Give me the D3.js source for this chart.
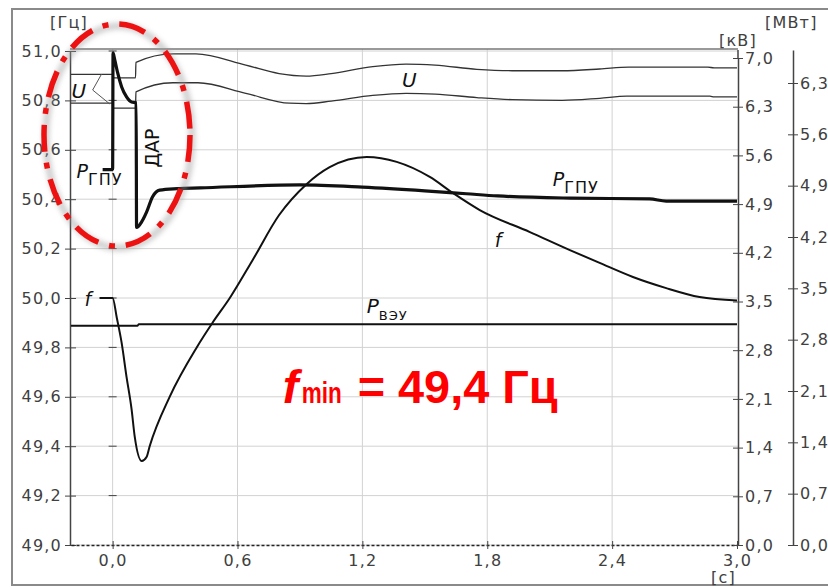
<!DOCTYPE html>
<html>
<head>
<meta charset="utf-8">
<script src="https://cdn.jsdelivr.net/npm/d3@7"></script>
<style>
body { margin: 0; background: #fff; }
text { font-family: "DejaVu Sans", Verdana, sans-serif; }
</style>
</head>
<body>
<div id="plot"></div>
<script>
// axis ticks
var tTicks = [0, 0.6, 1.2, 1.8, 2.4, 3.0];
var fTicks = [49.0, 49.2, 49.4, 49.6, 49.8, 50.0, 50.2, 50.4, 50.6, 50.8, 51.0];
var kvTicks = [0, 0.7, 1.4, 2.1, 2.8, 3.5, 4.2, 4.9, 5.6, 6.3, 7.0];
var mwTicks = [0, 0.7, 1.4, 2.1, 2.8, 3.5, 4.2, 4.9, 5.6, 6.3];

// f, Hz
var fT = [-0.063, 0, 0.02, 0.043, 0.067, 0.091, 0.106, 0.14, 0.163, 0.178, 0.274, 0.404, 0.48, 0.563, 0.673, 0.8, 0.933, 1.043, 1.221, 1.365, 1.524, 1.635, 1.764, 2.005, 2.197, 2.34, 2.5, 2.66, 2.82, 3.0];
var fV = [50.0, 50.0, 49.92, 49.82, 49.68, 49.55, 49.44, 49.34, 49.356, 49.4, 49.6, 49.8, 49.9, 50.0, 50.154, 50.336, 50.462, 50.53, 50.571, 50.551, 50.49, 50.425, 50.356, 50.267, 50.194, 50.142, 50.085, 50.04, 50.004, 49.99];

// P GPU, MW
var pgT = [-0.048, 0, 0.002, 0.01, 0.024, 0.043, 0.067, 0.091, 0.113, 0.115, 0.14, 0.163, 0.192, 0.226, 0.31, 0.42, 0.9, 1.2, 1.5, 1.7, 1.85, 2.2, 2.58, 2.66, 3.0];
var pgV = [5.12, 5.12, 6.71, 6.62, 6.44, 6.25, 6.11, 6.04, 6.03, 4.33, 4.41, 4.54, 4.75, 4.84, 4.86, 4.87, 4.91, 4.88, 4.83, 4.79, 4.76, 4.73, 4.72, 4.69, 4.69];

// P VEU, MW
var pvT = [-0.2, 0.12, 0.125, 3.0];
var pvV = [2.99, 2.99, 3.01, 3.01];

// U, kV (two phases)
var u1T = [-0.2, 0, 0.004, 0.11, 0.112, 0.29, 0.40, 0.64, 0.80, 0.93, 1.05, 1.25, 1.41, 1.55, 1.75, 1.92, 2.16, 2.34, 2.48, 2.86, 2.89, 3.0];
var u1V = [6.766, 6.766, 6.715, 6.715, 6.938, 7.06, 7.06, 6.898, 6.776, 6.74, 6.776, 6.877, 6.913, 6.898, 6.837, 6.817, 6.817, 6.842, 6.87, 6.87, 6.857, 6.857];
var u2T = [-0.2, 0, 0.004, 0.11, 0.112, 0.29, 0.41, 0.64, 0.85, 0.93, 1.05, 1.25, 1.41, 1.55, 1.75, 1.92, 2.16, 2.34, 2.47, 2.87, 2.89, 3.0];
var u2V = [6.35, 6.35, 6.279, 6.279, 6.512, 6.644, 6.644, 6.492, 6.35, 6.345, 6.38, 6.462, 6.492, 6.482, 6.431, 6.401, 6.391, 6.421, 6.451, 6.451, 6.441, 6.441];

var w = 828, h = 587;
var svg = d3.select("#plot")
    .append("svg")
    .attr("width", w)
    .attr("height", h);

var x = d3.scaleLinear().domain([-0.2, 3.0]).range([71, 737]);
var yF = d3.scaleLinear().domain([49, 51]).range([545, 51]);
var yKV = d3.scaleLinear().domain([0, 7]).range([545, 58]);
var yMW = d3.scaleLinear().domain([0, 6.75]).range([545, 50]);
var fmt = function (d) { return d.toFixed(1).replace(".", ","); };

// outer frame
svg.append("path")
    .attr("d", "M" + w + ",9H12V585H" + w)
    .attr("fill", "none").attr("stroke", "#8a8a8a").attr("stroke-width", 2);

// grid
svg.append("g").selectAll("line").data(fTicks).enter().append("line")
    .attr("x1", 70).attr("x2", 738)
    .attr("y1", function (d) { return yF(d); }).attr("y2", function (d) { return yF(d); })
    .attr("stroke", "#d2d2d2");
svg.append("g").selectAll("line").data(tTicks.slice(0, 5)).enter().append("line")
    .attr("x1", function (d) { return x(d); }).attr("x2", function (d) { return x(d); })
    .attr("y1", 49).attr("y2", 545)
    .attr("stroke", "#d2d2d2");
// small ticks on the t = 0 line
svg.append("g").selectAll("line").data(fTicks.slice(1)).enter().append("line")
    .attr("x1", x(0) - 4).attr("x2", x(0) + 4)
    .attr("y1", function (d) { return yF(d); }).attr("y2", function (d) { return yF(d); })
    .attr("stroke", "#444");
// top border
svg.append("line").attr("x1", 70).attr("x2", 738).attr("y1", 49).attr("y2", 49)
    .attr("stroke", "#777").attr("stroke-width", 1.5);

function styleAxis(g) {
    g.selectAll("text").attr("font-family", "DejaVu Sans, Verdana, sans-serif")
        .attr("font-size", 16).attr("fill", "#404040").attr("letter-spacing", 1.2);
    g.selectAll("line").attr("stroke", "#444");
    g.select(".domain").attr("stroke", "#444").attr("stroke-width", 1.5);
}

var gL = svg.append("g").attr("transform", "translate(70,0)")
    .call(d3.axisLeft(yF).tickValues(fTicks).tickFormat(fmt).tickSize(5).tickSizeOuter(0).tickPadding(3));
gL.selectAll(".tick line").attr("x1", 6);
styleAxis(gL);

var gB = svg.append("g").attr("transform", "translate(0,545)")
    .call(d3.axisBottom(x).tickValues(tTicks).tickFormat(fmt).tickSize(4).tickSizeOuter(0).tickPadding(6));
gB.selectAll(".tick line").attr("y1", -4);
styleAxis(gB);
gB.select(".domain").attr("stroke", "#222").attr("stroke-width", 1.5).attr("stroke-dasharray", "3,2");

var gK = svg.append("g").attr("transform", "translate(738,0)")
    .call(d3.axisRight(yKV).tickValues(kvTicks).tickFormat(fmt).tickSize(5).tickSizeOuter(0).tickPadding(2));
gK.selectAll(".tick line").attr("x1", -5);
styleAxis(gK);
gK.append("line").attr("x1", 0).attr("x2", 0).attr("y1", 50).attr("y2", 58)
    .attr("stroke", "#444").attr("stroke-width", 1.5);

var gM = svg.append("g").attr("transform", "translate(793,0)")
    .call(d3.axisRight(yMW).tickValues(mwTicks).tickFormat(fmt).tickSize(5).tickSizeOuter(0).tickPadding(2));
gM.selectAll(".tick line").attr("x1", -5);
styleAxis(gM);

// unit labels
function unit(txt, px, py, anchor) {
    svg.append("text").attr("x", px).attr("y", py).attr("text-anchor", anchor || "start")
        .attr("font-size", 16).attr("fill", "#404040").attr("letter-spacing", 1.2).text(txt);
}
unit("[Гц]", 50, 28);
unit("[МВт]", 765, 28);
unit("[кВ]", 719, 46);
unit("[с]", 711, 583);

// series
function zip(a, b) { return a.map(function (t, i) { return [t, b[i]]; }); }
function draw(data, ys, width, color, curve) {
    svg.append("path").datum(data)
        .attr("fill", "none").attr("stroke", color).attr("stroke-width", width)
        .attr("stroke-linejoin", "round")
        .attr("d", d3.line().x(function (d) { return x(d[0]); }).y(function (d) { return ys(d[1]); })
            .curve(curve || d3.curveMonotoneX));
}
draw(zip(u1T, u1V), yKV, 1.3, "#333");
draw(zip(u2T, u2V), yKV, 1.3, "#333");
draw(zip(pvT, pvV), yMW, 2, "#111", d3.curveLinear);
draw(zip(fT, fV), yF, 2, "#111");
draw(zip(pgT, pgV), yMW, 3.2, "#111");

// U pointer
svg.append("path")
    .attr("d", "M" + x(-0.053) + "," + yKV(6.77) + "L" + x(-0.096) + "," + yKV(6.54) + "L" + x(-0.014) + "," + yKV(6.34))
    .attr("fill", "none").attr("stroke", "#555").attr("stroke-width", 1);

// labels
function lab(txt, px, py, size, italic) {
    return svg.append("text").attr("x", px).attr("y", py).attr("font-size", size)
        .attr("font-style", italic ? "italic" : "normal").attr("fill", "#111").text(txt);
}
lab("U", x(-0.197), yKV(6.425), 20, true);
lab("U", x(1.39), yKV(6.583), 20, true);
lab("f", x(-0.135), yF(49.968), 19, true);
lab("f", x(1.836), yF(50.206), 19, true);

function sub(main, s, px, py, size, sSize) {
    var t = svg.append("text").attr("x", px).attr("y", py).attr("fill", "#111");
    t.append("tspan").attr("font-size", size).attr("font-style", "italic").text(main);
    t.append("tspan").attr("font-size", sSize).attr("dy", 7).attr("letter-spacing", 1).text(s);
}
sub("P", "ГПУ", x(-0.173), yMW(5.0), 19, 16);
sub("P", "ГПУ", x(2.115), yMW(4.9), 19, 16);
sub("P", "ВЭУ", x(1.221), yMW(3.166), 20, 13);

svg.append("text")
    .attr("transform", "translate(" + (x(0.187) + 7) + "," + yF(50.607) + ") rotate(-90)")
    .attr("text-anchor", "middle").attr("font-size", 19).attr("fill", "#111").text("ДАР");

// red note
var note = svg.append("g").attr("fill", "#ff0000").attr("font-weight", "bold")
    .style("font-family", "'Liberation Sans', Arial, sans-serif");
note.append("text").attr("x", x(0.817)).attr("y", yF(49.575)).attr("font-size", 47)
    .attr("font-style", "italic").style("font-family", "'Liberation Sans', Arial, sans-serif").text("f");
note.append("text").attr("x", x(0.817) + 19).attr("y", yF(49.575)).attr("font-size", 30)
    .attr("textLength", 40).attr("lengthAdjust", "spacingAndGlyphs")
    .style("font-family", "'Liberation Sans', Arial, sans-serif").text("min");
note.append("text").attr("x", x(0.817) + 75).attr("y", yF(49.575)).attr("font-size", 47)
    .attr("textLength", 200).attr("lengthAdjust", "spacingAndGlyphs")
    .style("font-family", "'Liberation Sans', Arial, sans-serif").text("= 49,4 Гц");

// dashed ellipse with soft shadow
var defs = svg.append("defs");
defs.append("filter").attr("id", "blur").append("feGaussianBlur").attr("stdDeviation", 2.5);
svg.append("ellipse").attr("cx", 119).attr("cy", 137).attr("rx", 73).attr("ry", 111)
    .attr("fill", "none").attr("stroke", "#999").attr("stroke-width", 7).attr("opacity", 0.45)
    .attr("filter", "url(#blur)");
svg.append("ellipse").attr("cx", 117).attr("cy", 135).attr("rx", 73).attr("ry", 111)
    .attr("fill", "none").attr("stroke", "#ee1111").attr("stroke-width", 5.5)
    .attr("stroke-dasharray", "27 11 6 11");
</script>
</body>
</html>
